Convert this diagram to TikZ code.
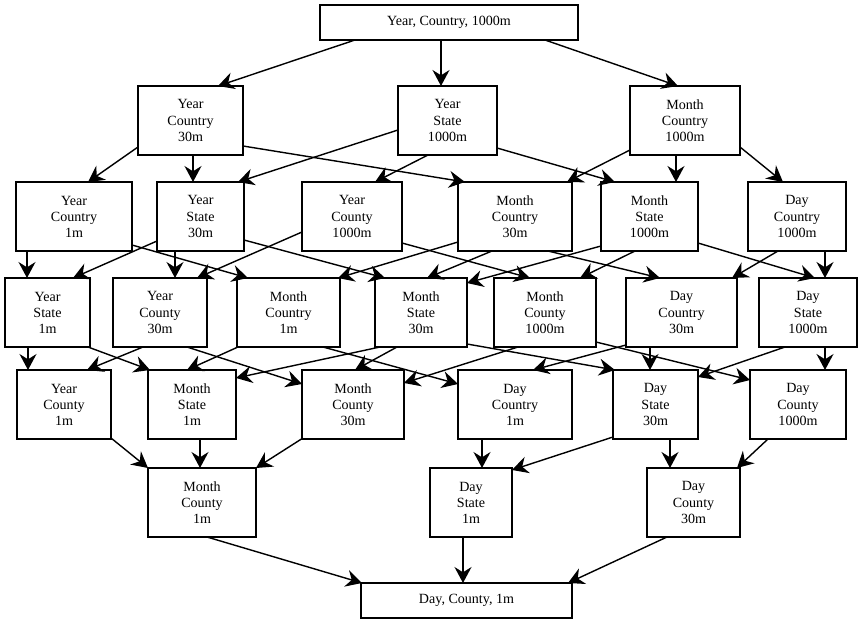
\documentclass[tikz,border=0pt]{standalone}
\usepackage{fontspec}
\setmainfont{Liberation Serif}
\usetikzlibrary{arrows.meta,calc}

\begin{document}
\begin{tikzpicture}[
  x=0.03cm, y=-0.03cm,
  font=\fontsize{12}{13.7}\selectfont,
  box/.style={rectangle, draw, line width=1.3pt, inner sep=2pt, align=center},
  cube/.style={box, minimum height=2.07cm},
  wide/.style={box, minimum height=1.05cm},
  arrow/.style={-{Stealth[length=4.8mm, width=5.1mm, inset=1.6mm]}, line width=1.2pt}
]
  \useasboundingbox (0,0) rectangle (858,621);

  % Top: coarsest cube
  \node[wide, minimum width=7.74cm] (top) at (449,22.5) {Year, Country, 1000m};

  % Row 1
  \node[cube, minimum width=3.15cm] (yc30) at (190.5,120.5) {Year\\Country\\30m};
  \node[cube, minimum width=2.97cm] (ys1000) at (447.5,120.5) {Year\\State\\1000m};
  \node[cube, minimum width=3.30cm] (mc1000) at (685,120.5) {Month\\Country\\1000m};

  % Row 2
  \node[cube, minimum width=3.48cm] (yc1) at (74,216.5) {Year\\Country\\1m};
  \node[cube, minimum width=2.61cm] (ys30) at (200.5,216.5) {Year\\State\\30m};
  \node[cube, minimum width=3.00cm] (yco1000) at (352,216.5) {Year\\County\\1000m};
  \node[cube, minimum width=3.42cm] (mc30) at (515,216.5) {Month\\Country\\30m};
  \node[cube, minimum width=2.91cm] (ms1000) at (649.5,216.5) {Month\\State\\1000m};
  \node[cube, minimum width=2.94cm] (dc1000) at (797,216.5) {Day\\Country\\1000m};

  % Row 3
  \node[cube, minimum width=2.55cm] (ys1) at (47.5,312.5) {Year\\State\\1m};
  \node[cube, minimum width=2.82cm] (yco30) at (160,312.5) {Year\\County\\30m};
  \node[cube, minimum width=3.09cm] (mc1) at (288.5,312.5) {Month\\Country\\1m};
  \node[cube, minimum width=2.76cm] (ms30) at (421,312.5) {Month\\State\\30m};
  \node[cube, minimum width=3.06cm] (mco1000) at (545,312.5) {Month\\County\\1000m};
  \node[cube, minimum width=3.33cm] (dc30) at (681.5,312.5) {Day\\Country\\30m};
  \node[cube, minimum width=2.94cm] (ds1000) at (808,312.5) {Day\\State\\1000m};

  % Row 4
  \node[cube, minimum width=2.82cm] (yco1) at (64,404.5) {Year\\County\\1m};
  \node[cube, minimum width=2.64cm] (ms1) at (192,404.5) {Month\\State\\1m};
  \node[cube, minimum width=3.06cm] (mco30) at (353,404.5) {Month\\County\\30m};
  \node[cube, minimum width=3.42cm] (dc1) at (515,404.5) {Day\\Country\\1m};
  \node[cube, minimum width=2.55cm] (ds30) at (655.5,404.5) {Day\\State\\30m};
  \node[cube, minimum width=2.88cm] (dco1000) at (798,404.5) {Day\\County\\1000m};

  % Row 5
  \node[cube, minimum width=3.24cm] (mco1) at (202,502.5) {Month\\County\\1m};
  \node[cube, minimum width=2.46cm] (ds1) at (471,502.5) {Day\\State\\1m};
  \node[cube, minimum width=2.79cm] (dco30) at (693.5,502.5) {Day\\County\\30m};

  % Bottom: finest cube
  \node[wide, minimum width=6.33cm] (bot) at (466.5,600.5) {Day, County, 1m};

  % top -> row 1
  \draw[arrow] ($(top)+(-94,17.5)$) -- ($(yc30)+(27.5,-34.5)$);
  \draw[arrow] ($(top)+(-8,17.5)$) -- ($(ys1000)+(-6.5,-34.5)$);
  \draw[arrow] ($(top)+(96,17.5)$) -- ($(mc1000)+(-7,-34.5)$);

  % row 1 -> row 2
  \draw[arrow] ($(yc30)+(-52.5,26.5)$) -- ($(yc1)+(14,-34.5)$);
  \draw[arrow] ($(yc30)+(2.5,34.5)$) -- ($(ys30)+(-7.5,-34.5)$);
  \draw[arrow] ($(yc30)+(52.5,25.5)$) -- ($(mc30)+(-50,-34.5)$);
  \draw[arrow] ($(ys1000)+(-49.5,9.5)$) -- ($(ys30)+(37.5,-34.5)$);
  \draw[arrow] ($(ys1000)+(-19.5,34.5)$) -- ($(yco1000)+(23,-34.5)$);
  \draw[arrow] ($(ys1000)+(49.5,27.5)$) -- ($(ms1000)+(-34.5,-34.5)$);
  \draw[arrow] ($(mc1000)+(-55,29.5)$) -- ($(mc30)+(52,-34.5)$);
  \draw[arrow] ($(mc1000)+(-9,34.5)$) -- ($(ms1000)+(26.5,-34.5)$);
  \draw[arrow] ($(mc1000)+(55,26.5)$) -- ($(dc1000)+(-14,-34.5)$);

  % row 2 -> row 3
  \draw[arrow] ($(yc1)+(-47,34.5)$) -- ($(ys1)+(-20.5,-34.5)$);
  \draw[arrow] ($(yc1)+(58,28.5)$) -- ($(mc1)+(-40.5,-34.5)$);
  \draw[arrow] ($(ys30)+(-43.5,24.5)$) -- ($(ys1)+(25.5,-34.5)$);
  \draw[arrow] ($(ys30)+(-25.5,34.5)$) -- ($(yco30)+(15,-34.5)$);
  \draw[arrow] ($(ys30)+(43.5,23.5)$) -- ($(ms30)+(-36,-34.5)$);
  \draw[arrow] ($(yco1000)+(-50,15.5)$) -- ($(yco30)+(37,-34.5)$);
  \draw[arrow] ($(yco1000)+(50,26.5)$) -- ($(mco1000)+(-15,-34.5)$);
  \draw[arrow] ($(mc30)+(-57,25.5)$) -- ($(mc1)+(49.5,-34.5)$);
  \draw[arrow] ($(mc30)+(-23,34.5)$) -- ($(ms30)+(6,-34.5)$);
  \draw[arrow] ($(mc30)+(33,34.5)$) -- ($(dc30)+(-21.5,-34.5)$);
  \draw[arrow] ($(ms1000)+(-48.5,29.5)$) -- ($(ms30)+(46,-29.5)$);
  \draw[arrow] ($(ms1000)+(-14.5,34.5)$) -- ($(mco1000)+(35,-34.5)$);
  \draw[arrow] ($(ms1000)+(48.5,26.5)$) -- ($(ds1000)+(7,-34.5)$);
  \draw[arrow] ($(dc1000)+(-19,34.5)$) -- ($(dc30)+(50.5,-34.5)$);
  \draw[arrow] ($(dc1000)+(28,34.5)$) -- ($(ds1000)+(17,-34.5)$);

  % row 3 -> row 4
  \draw[arrow] ($(ys1)+(-19.5,34.5)$) -- ($(yco1)+(-36,-34.5)$);
  \draw[arrow] ($(ys1)+(40.5,34.5)$) -- ($(ms1)+(-42,-34.5)$);
  \draw[arrow] ($(yco30)+(-17,34.5)$) -- ($(yco1)+(23,-34.5)$);
  \draw[arrow] ($(yco30)+(27,34.5)$) -- ($(mco30)+(-51,-20.5)$);
  \draw[arrow] ($(mc1)+(-50.5,34.5)$) -- ($(ms1)+(-5,-34.5)$);
  \draw[arrow] ($(mc1)+(34.5,34.5)$) -- ($(dc1)+(-57,-20.5)$);
  \draw[arrow] ($(ms30)+(-41,34.5)$) -- ($(ms1)+(44,-26.5)$);
  \draw[arrow] ($(ms30)+(-24,34.5)$) -- ($(mco30)+(2,-34.5)$);
  \draw[arrow] ($(ms30)+(46,31.5)$) -- ($(ds30)+(-40.5,-34.5)$);
  \draw[arrow] ($(mco1000)+(-27,34.5)$) -- ($(mco30)+(51,-21.5)$);
  \draw[arrow] ($(mco1000)+(51,29.5)$) -- ($(dco1000)+(-48,-24.5)$);
  \draw[arrow] ($(dc30)+(-55.5,32.5)$) -- ($(dc1)+(18,-34.5)$);
  \draw[arrow] ($(dc30)+(-31.5,34.5)$) -- ($(ds30)+(-5.5,-34.5)$);
  \draw[arrow] ($(ds1000)+(-23,34.5)$) -- ($(ds30)+(42.5,-27.5)$);
  \draw[arrow] ($(ds1000)+(17,34.5)$) -- ($(dco1000)+(27,-34.5)$);

  % row 4 -> row 5
  \draw[arrow] ($(yco1)+(47,33.5)$) -- ($(mco1)+(-54,-34.5)$);
  \draw[arrow] ($(ms1)+(8,34.5)$) -- ($(mco1)+(-2,-34.5)$);
  \draw[arrow] ($(mco30)+(-50,33.5)$) -- ($(mco1)+(54,-34.5)$);
  \draw[arrow] ($(dc1)+(-33,34.5)$) -- ($(ds1)+(11,-34.5)$);
  \draw[arrow] ($(ds30)+(-42.5,32.5)$) -- ($(ds1)+(41,-32.5)$);
  \draw[arrow] ($(ds30)+(14.5,34.5)$) -- ($(dco30)+(-23.5,-34.5)$);
  \draw[arrow] ($(dco1000)+(-30,34.5)$) -- ($(dco30)+(43.5,-34.5)$);

  % row 5 -> bottom
  \draw[arrow] ($(mco1)+(5,34.5)$) -- ($(bot)+(-104.5,-17.5)$);
  \draw[arrow] ($(ds1)+(-8,34.5)$) -- ($(bot)+(-3.5,-17.5)$);
  \draw[arrow] ($(dco30)+(-26.5,34.5)$) -- ($(bot)+(101.5,-17.5)$);
\end{tikzpicture}
\end{document}
